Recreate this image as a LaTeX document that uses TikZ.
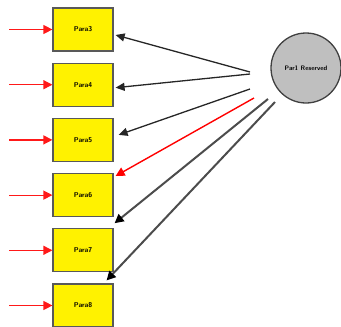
\documentclass[tikz,border=0pt]{standalone}
\usetikzlibrary{arrows.meta,calc}
\begin{document}
\begin{tikzpicture}[x=1pt,y=-1pt,
  box/.style={draw=black!65,line width=1.2pt,fill=yellow,minimum width=60pt,minimum height=43pt,inner sep=0pt,font=\sffamily\bfseries\fontsize{7}{8}\selectfont},
  res/.style={circle,draw=black!75,line width=1.3pt,fill=black!25,minimum size=70pt,inner sep=0pt,font=\sffamily\bfseries\fontsize{6.5}{7}\selectfont},
  inarrow/.style={red!90!white,line width=1.2pt,-{Triangle[length=9pt,width=9pt]}},
  outarrow/.style={black!85,line width=1.3pt,-{Triangle[length=9pt,width=8pt]}},
  grayarrow/.style={black!70,line width=2pt,-{Triangle[length=9pt,width=9pt,fill=black,color=black]}},
  redarrow/.style={red,line width=1.4pt,-{Triangle[length=9pt,width=9pt]}}]
\useasboundingbox (0,0) rectangle (341,327);
\node[box] (b1) at (83,29.5) {Para3};
\node[box] (b2) at (83,84.7) {Para4};
\node[box] (b3) at (83,139.9) {Para5};
\node[box] (b4) at (83,195.1) {Para6};
\node[box] (b5) at (83,250.3) {Para7};
\node[box] (b6) at (83,305.5) {Para8};
\node[res] (c) at (306,68) {Par1 Reserved};
\foreach \i/\y in {1/29.5,2/84.7,3/139.9,4/195.1,5/250.3,6/305.5}{
  \coordinate (l\i) at (9,\y);
  \draw[inarrow] (l\i) -- (b\i.west);
}
\coordinate (s1) at (250,72);
\coordinate (s2) at (250,74);
\coordinate (s3) at (250,89);
\coordinate (s4) at (254,98);
\coordinate (s5) at (268,99);
\coordinate (s6) at (275,102);
\draw[outarrow] (s1) -- ($(b1.east)+(2,5.5)$);
\draw[outarrow] (s2) -- ($(b2.east)+(2,3)$);
\draw[outarrow] (s3) -- ($(b3.east)+(5,-5)$);
\draw[redarrow] (s4) -- ($(b4.north east)+(2,3)$);
\draw[grayarrow] (s5) -- ($(b5.north east)+(1,-5)$);
\draw[grayarrow] (s6) -- ($(b6.north east)+(-7,-3)$);
\end{tikzpicture}
\end{document}
